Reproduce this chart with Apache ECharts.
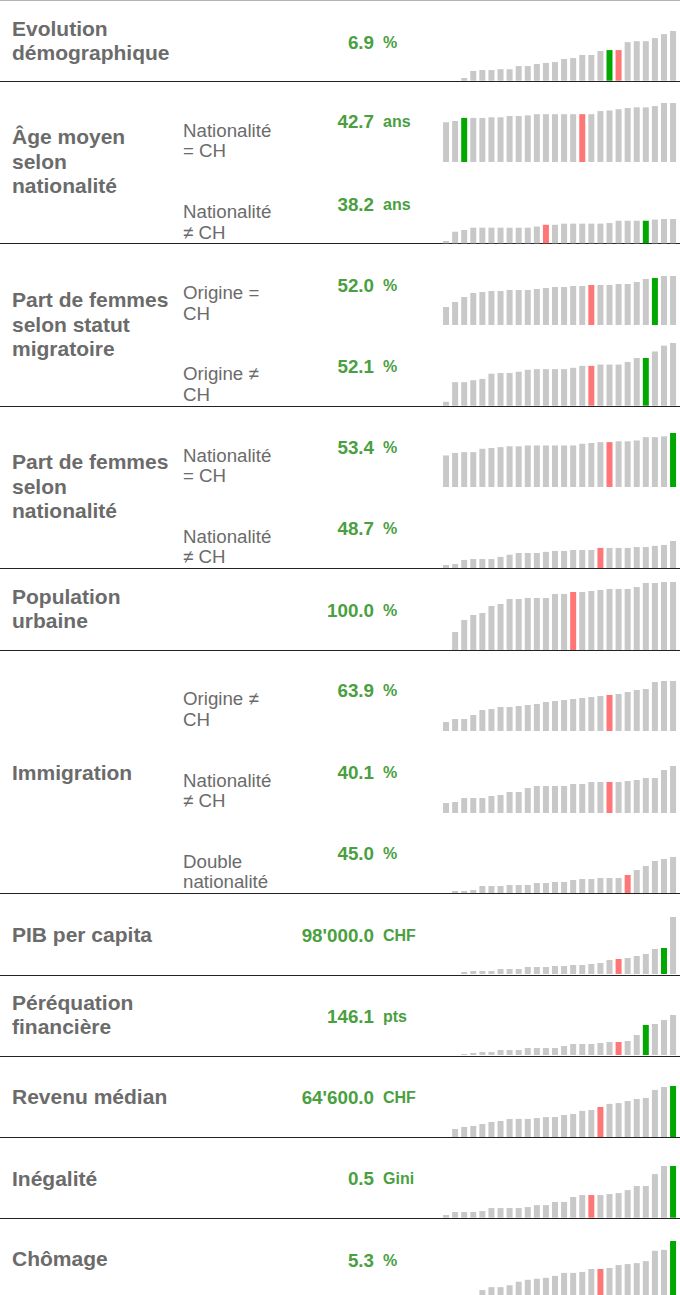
<!DOCTYPE html>
<html>
<head>
<meta charset="utf-8">
<script src="https://cdn.jsdelivr.net/npm/echarts@6/dist/echarts.min.js"></script>
<style>
  body { margin: 0; background: #fff; }
  #chart { width: 680px; height: 1295px; }
</style>
</head>
<body>
<div id="chart"></div>
<script>
// rang des 26 cantons (triés par valeur dans chaque mini-graphique)
const rangs = ['1', '2', '3', '4', '5', '6', '7', '8', '9', '10', '11', '12', '13',
  '14', '15', '16', '17', '18', '19', '20', '21', '22', '23', '24', '25', '26']

// valeurs par indicateur
const evolution = [0, 0, 0.6, 2.2, 2.4, 2.4, 2.6, 2.6, 3.3, 3.3, 3.75, 4.0, 4.2, 4.9, 5.1, 5.8, 5.8, 6.7, 6.9, 6.9, 8.7, 8.9, 8.9, 9.6, 10.5, 11.2]
const ageCH = [41.4, 41.6, 42.1, 42.1, 42.1, 42.2, 42.2, 42.4, 42.4, 42.5, 42.7, 42.7, 42.7, 42.7, 42.7, 42.7, 42.7, 43.2, 43.3, 43.5, 43.7, 43.8, 43.8, 44.0, 44.5, 44.5]
const ageEtr = [35.4, 37.0, 37.3, 37.7, 37.7, 37.7, 37.7, 37.7, 37.7, 37.7, 37.9, 38.2, 38.2, 38.4, 38.4, 38.4, 38.4, 38.4, 38.5, 38.9, 38.9, 38.9, 38.9, 39.1, 39.2, 39.2]
const femOrigCH = [49.8, 50.3, 50.8, 51.2, 51.3, 51.4, 51.4, 51.5, 51.5, 51.5, 51.6, 51.7, 51.8, 51.8, 51.9, 51.9, 52.0, 52.0, 52.0, 52.1, 52.1, 52.3, 52.6, 52.7, 52.9, 52.9]
const femOrigEtr = [46.6, 49.6, 49.6, 49.9, 50.1, 50.9, 51.0, 51.0, 51.2, 51.5, 51.6, 51.6, 51.6, 51.6, 51.8, 52.1, 52.1, 52.3, 52.3, 52.3, 52.7, 53.3, 53.3, 54.3, 55.2, 55.6]
const femNatCH = [51.8, 52.1, 52.2, 52.2, 52.6, 52.7, 52.8, 52.9, 52.9, 53.0, 53.0, 53.0, 53.0, 53.0, 53.0, 53.2, 53.3, 53.4, 53.4, 53.5, 53.5, 53.6, 54.0, 54.0, 54.1, 54.5]
const femNatEtr = [41.3, 41.7, 43.5, 43.9, 43.9, 43.9, 44.8, 45.7, 46.5, 46.5, 46.5, 47.0, 47.4, 47.4, 47.8, 47.8, 47.8, 48.7, 48.7, 48.7, 48.7, 49.1, 49.1, 49.6, 50.0, 51.7]
const urbaine = [0, 31.0, 51.7, 60.3, 63.8, 75.9, 79.3, 87.9, 87.9, 89.7, 89.7, 89.7, 96.6, 96.6, 100, 100, 101.7, 103.4, 105.2, 105.2, 105.2, 108.6, 115.5, 115.5, 117.2, 117.2]
const immOrig = [16.0, 21.3, 21.3, 28.4, 37.3, 39.1, 42.6, 42.6, 44.4, 46.2, 47.9, 51.5, 53.3, 55.0, 56.8, 58.6, 60.4, 62.1, 63.9, 65.7, 69.2, 72.8, 74.6, 87.0, 88.8, 88.8]
const immNat = [12.9, 14.2, 19.4, 19.4, 19.4, 22.0, 23.3, 27.2, 27.2, 32.3, 34.9, 34.9, 34.9, 34.9, 37.5, 37.5, 40.1, 40.1, 40.1, 40.1, 41.4, 42.7, 45.3, 45.3, 55.6, 60.8]
const immDouble = [0, 5.0, 5.0, 7.5, 17.5, 17.5, 17.5, 20.0, 20.0, 20.0, 25.0, 25.0, 27.5, 27.5, 32.5, 35.0, 35.0, 37.5, 37.5, 37.5, 45.0, 57.5, 67.5, 80.0, 85.0, 90.0]
const pib = [60000, 60000, 65100, 67600, 67600, 67600, 72700, 72700, 72700, 77700, 77700, 77700, 80300, 80300, 82800, 82800, 85300, 87900, 95500, 98000, 100500, 105600, 110700, 123300, 125900, 204400]
const perequation = [100, 100, 103.5, 107.1, 110.6, 110.6, 117.7, 117.7, 117.7, 124.8, 124.8, 124.8, 124.8, 131.9, 139.0, 139.0, 139.0, 142.6, 146.1, 146.1, 149.6, 170.9, 206.4, 209.9, 224.1, 241.8]
const revenu = [50000, 53900, 54900, 55400, 56300, 57300, 57800, 58800, 58800, 58800, 59200, 59700, 59700, 60700, 61200, 62700, 63100, 64600, 66100, 66500, 67500, 68500, 69000, 72900, 74300, 74800]
const gini = [0.319, 0.340, 0.340, 0.340, 0.347, 0.368, 0.368, 0.368, 0.368, 0.375, 0.389, 0.389, 0.411, 0.411, 0.446, 0.460, 0.460, 0.460, 0.467, 0.474, 0.495, 0.524, 0.524, 0.608, 0.665, 0.665]
const chomage = [0, 0, 0, 0, 1.0, 1.6, 1.6, 2.0, 2.7, 3.1, 3.3, 3.5, 3.9, 4.5, 4.5, 4.7, 5.3, 5.3, 5.5, 6.1, 6.3, 6.5, 6.9, 9.0, 9.2, 11.0]

// textes
const titres = ['Evolution\ndémographique', 'Âge moyen\nselon\nnationalité', 'Part de femmes\nselon statut\nmigratoire',
  'Part de femmes\nselon\nnationalité', 'Population\nurbaine', 'Immigration', 'PIB per capita',
  'Péréquation\nfinancière', 'Revenu médian', 'Inégalité', 'Chômage']
const sousTitres = ['', 'Nationalité\n= CH', 'Nationalité\n≠ CH', 'Origine =\nCH', 'Origine ≠\nCH', 'Nationalité\n= CH',
  'Nationalité\n≠ CH', '', 'Origine ≠\nCH', 'Nationalité\n≠ CH', 'Double\nnationalité', '', '', '', '', '']
const valeurs = ['6.9', '42.7', '38.2', '52.0', '52.1', '53.4', '48.7', '100.0', '63.9', '40.1', '45.0',
  "98'000.0", '146.1', "64'600.0", '0.5', '5.3']
const unites = ['%', 'ans', 'ans', '%', '%', '%', '%', '%', '%', '%', '%', 'CHF', 'pts', 'CHF', 'Gini', '%']

const series16 = [evolution, ageCH, ageEtr, femOrigCH, femOrigEtr, femNatCH, femNatEtr, urbaine,
  immOrig, immNat, immDouble, pib, perequation, revenu, gini, chomage]
// bas de l'axe de chaque mini-graphique
const minima = [0, 35, 35, 48, 46, 48, 40, 0, 0, 0, 0, 60000, 100, 50000, 0.3, 0]
const rouge = [19, 15, 11, 16, 16, 18, 17, 14, 18, 18, 20, 19, 19, 17, 16, 17]
const vert = [18, 2, 22, 23, 22, 25, -1, -1, -1, -1, -1, 24, 22, 25, 25, 25]

// mise en page (pixels)
const hautBarres = [31, 103, 219, 276, 343, 433, 541, 582, 681, 766, 857, 917, 1015, 1086, 1166, 1241]
const basBarres = [80.7, 162, 243.3, 325, 405.7, 487, 568, 650, 731, 813, 893, 974, 1055, 1137, 1217.7, 1295]
const yValeurs = [42, 121, 204, 285, 366, 447, 528, 610, 690, 772, 853, 935, 1016, 1097, 1178, 1260]
const ySousTitres = [0, 140.5, 222, 303, 384, 465.5, 546.5, 0, 709, 790.5, 871.5, 0, 0, 0, 0, 0]
const yTitres = [40.3, 161.4, 324.3, 486.3, 608.5, 772, 934, 1014.5, 1096, 1178, 1258]
const separateurs = [81, 243, 406, 568, 650, 893, 975, 1056, 1137, 1218]

const FONT = '"Liberation Sans", Arial, Helvetica, sans-serif'
const GRIS_TEXTE = '#6b6b6b'
const VERT_TEXTE = '#4aa041'

const chart = echarts.init(document.getElementById('chart'), null, { renderer: 'svg' })

const grid = [], xAxis = [], yAxis = [], series = []
series16.forEach((vals, i) => {
  grid.push({ left: 441.5, right: 2.4, top: hautBarres[i], height: basBarres[i] - hautBarres[i] })
  xAxis.push({ type: 'category', gridIndex: i, data: rangs, show: false })
  yAxis.push({ type: 'value', gridIndex: i, min: minima[i], max: 'dataMax', show: false })
  series.push({
    type: 'bar',
    xAxisIndex: i,
    yAxisIndex: i,
    barWidth: 6,
    clip: true,
    silent: true,
    data: vals.map((v, j) => ({
      value: v,
      itemStyle: { color: j === rouge[i] ? '#ff7676' : j === vert[i] ? '#00a800' : '#c8c8c8' },
    })),
  })
})

const graphic = []
graphic.push({ type: 'line', shape: { x1: 0, y1: 0.5, x2: 680, y2: 0.5 }, style: { stroke: '#b4b4b4', lineWidth: 1 } })
separateurs.forEach((y) => {
  graphic.push({ type: 'line', shape: { x1: 0, y1: y + 0.5, x2: 680, y2: y + 0.5 }, style: { stroke: '#222', lineWidth: 1 } })
})
titres.forEach((t, i) => {
  graphic.push({
    type: 'text', x: 12, y: yTitres[i],
    style: { text: t, fontFamily: FONT, fontSize: 21, fontWeight: 'bold', fill: GRIS_TEXTE, align: 'left', verticalAlign: 'middle', lineHeight: 24.5 },
  })
})
sousTitres.forEach((t, i) => {
  if (!t) return
  graphic.push({
    type: 'text', x: 183, y: ySousTitres[i],
    style: { text: t, fontFamily: FONT, fontSize: 18.7, fill: GRIS_TEXTE, align: 'left', verticalAlign: 'middle', lineHeight: 20.5 },
  })
})
valeurs.forEach((t, i) => {
  graphic.push({
    type: 'text', x: 374, y: yValeurs[i],
    style: { text: t, fontFamily: FONT, fontSize: 18.8, fontWeight: 'bold', fill: VERT_TEXTE, align: 'right', verticalAlign: 'middle' },
  })
  graphic.push({
    type: 'text', x: 383, y: yValeurs[i] + 0.5,
    style: { text: unites[i], fontFamily: FONT, fontSize: 16, fontWeight: 'bold', fill: VERT_TEXTE, align: 'left', verticalAlign: 'middle' },
  })
})

chart.setOption({
  animation: false,
  grid,
  xAxis,
  yAxis,
  series,
  graphic,
})
</script>
</body>
</html>
